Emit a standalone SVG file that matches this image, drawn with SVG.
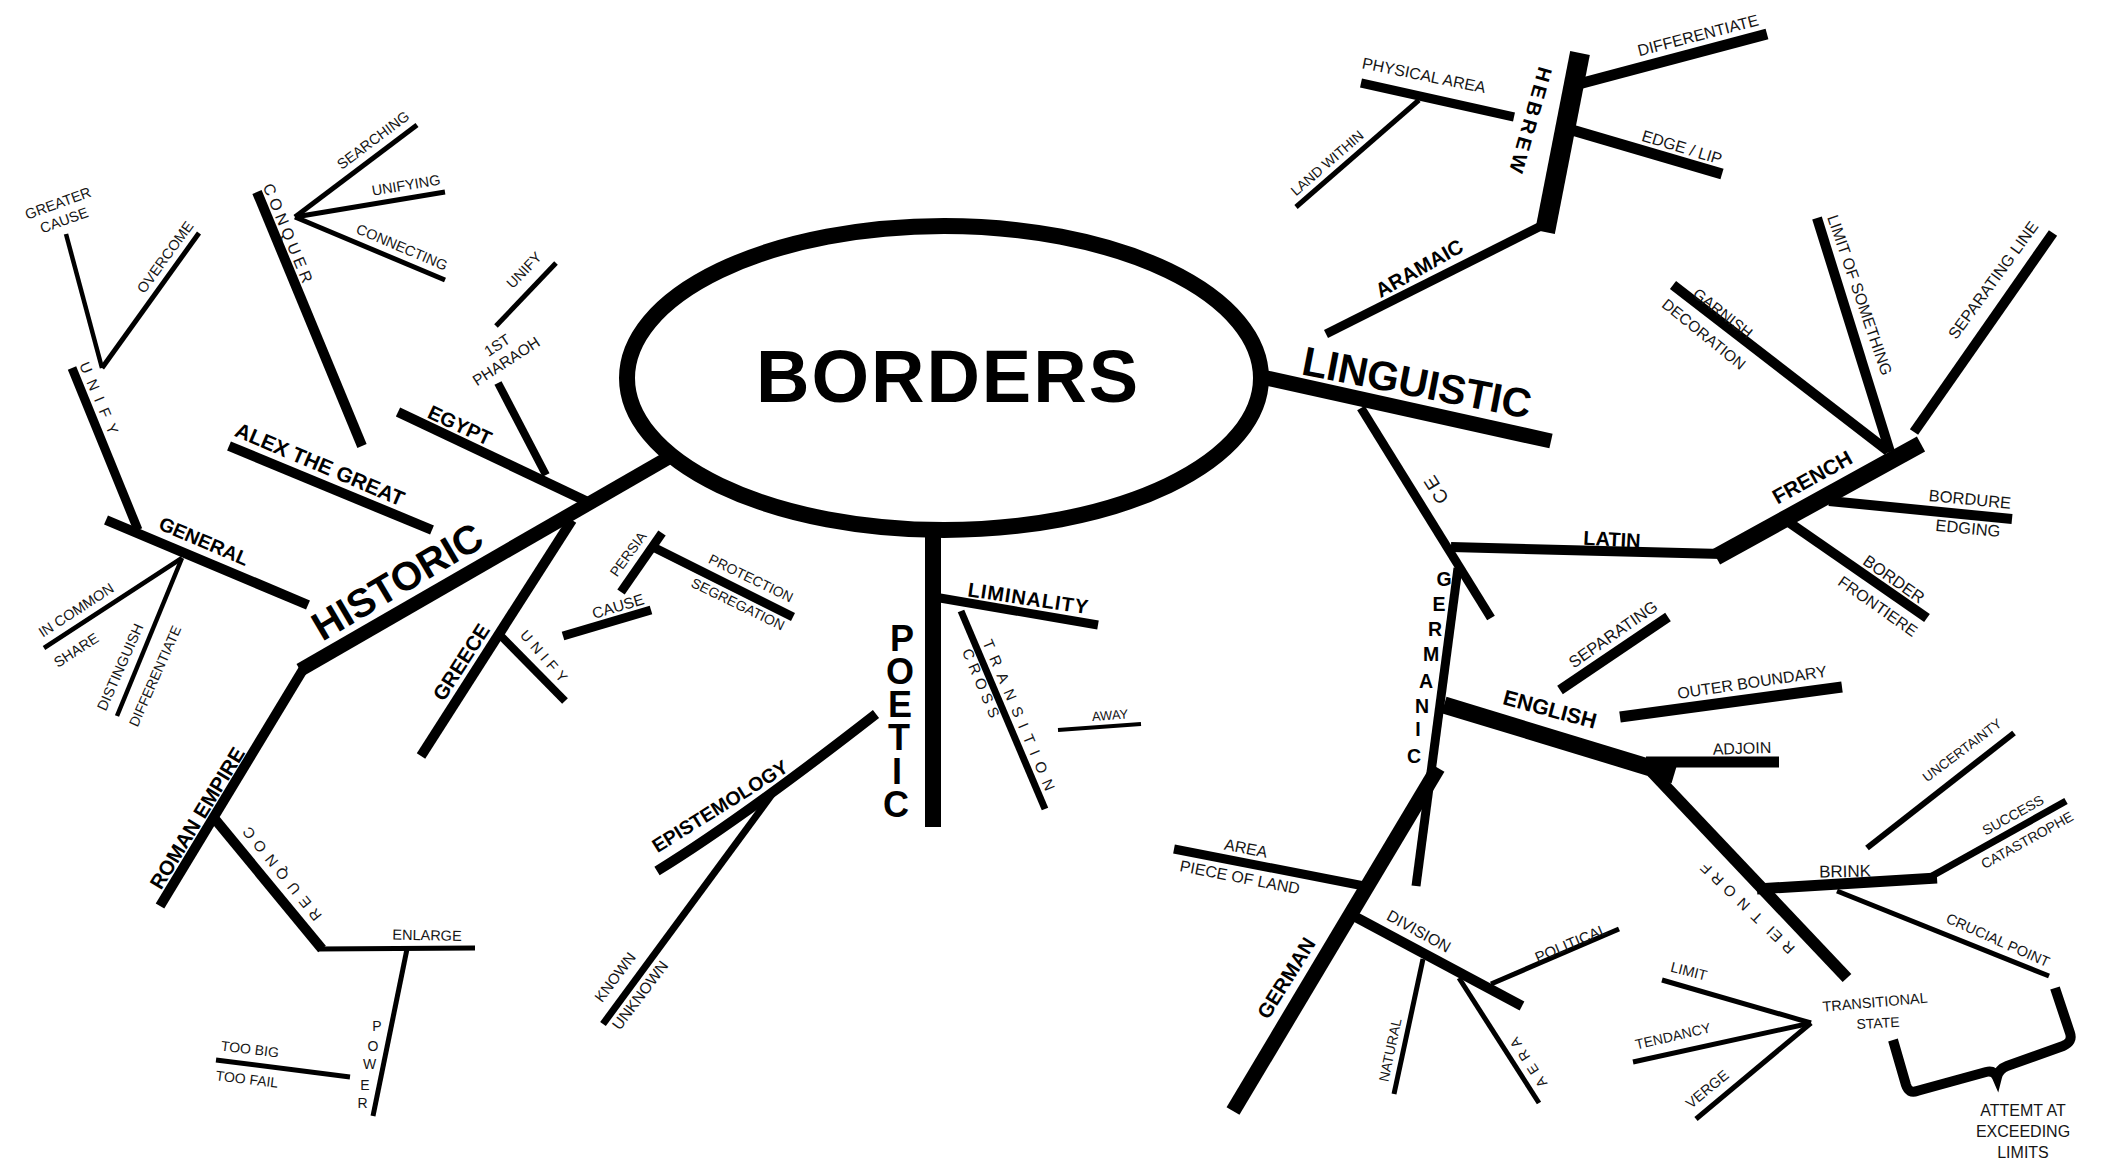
<svg xmlns="http://www.w3.org/2000/svg" width="2113" height="1163" viewBox="0 0 2113 1163">
<style>
.ln{stroke:#000;fill:none;stroke-linecap:butt;stroke-linejoin:miter}
.t{font-family:"Liberation Sans",Arial,Helvetica,sans-serif;fill:#151515;text-anchor:middle}
.b{font-weight:bold;fill:#000}
</style>
<rect width="2113" height="1163" fill="#fff"/>
<g id="connectors">
<line class="ln" x1="668" y1="458" x2="300" y2="670" stroke-width="14"/>
<line class="ln" x1="398" y1="412" x2="590" y2="503" stroke-width="10"/>
<line class="ln" x1="498" y1="383" x2="546" y2="475" stroke-width="8"/>
<line class="ln" x1="496" y1="326" x2="556" y2="263" stroke-width="5"/>
<line class="ln" x1="229" y1="446" x2="432" y2="530" stroke-width="10"/>
<line class="ln" x1="257" y1="192" x2="362" y2="446" stroke-width="10"/>
<line class="ln" x1="295" y1="217" x2="417" y2="125" stroke-width="5"/>
<line class="ln" x1="295" y1="217" x2="445" y2="192" stroke-width="5"/>
<line class="ln" x1="295" y1="217" x2="445" y2="280" stroke-width="5"/>
<line class="ln" x1="106" y1="520" x2="308" y2="605" stroke-width="10"/>
<line class="ln" x1="72" y1="368" x2="138" y2="530" stroke-width="9"/>
<line class="ln" x1="102" y1="368" x2="66" y2="234" stroke-width="4.5"/>
<line class="ln" x1="102" y1="368" x2="199" y2="233" stroke-width="5"/>
<line class="ln" x1="182" y1="558" x2="44" y2="648" stroke-width="4.5"/>
<line class="ln" x1="182" y1="558" x2="117" y2="716" stroke-width="4.5"/>
<line class="ln" x1="572" y1="520" x2="421" y2="756" stroke-width="10"/>
<line class="ln" x1="500" y1="635" x2="565" y2="701" stroke-width="8"/>
<line class="ln" x1="563" y1="636" x2="651" y2="610" stroke-width="9"/>
<line class="ln" x1="621" y1="592" x2="662" y2="533" stroke-width="9"/>
<line class="ln" x1="655" y1="548" x2="793" y2="617" stroke-width="9"/>
<line class="ln" x1="304" y1="668" x2="160" y2="906" stroke-width="10"/>
<line class="ln" x1="214" y1="818" x2="322" y2="949" stroke-width="10"/>
<line class="ln" x1="318" y1="949" x2="475" y2="948" stroke-width="5"/>
<line class="ln" x1="407" y1="949" x2="373" y2="1116" stroke-width="5"/>
<line class="ln" x1="216" y1="1060" x2="350" y2="1077" stroke-width="5"/>
<line class="ln" x1="933" y1="530" x2="933" y2="827" stroke-width="16"/>
<line class="ln" x1="940" y1="598" x2="1098" y2="625" stroke-width="9"/>
<line class="ln" x1="961" y1="611" x2="1045" y2="809" stroke-width="7"/>
<line class="ln" x1="1058" y1="730" x2="1141" y2="724" stroke-width="4"/>
<path class="ln" d="M657 871 Q740 820 876 714" stroke-width="10"/>
<line class="ln" x1="776" y1="789" x2="603" y2="1024" stroke-width="7"/>
<line class="ln" x1="1262" y1="377" x2="1551" y2="441" stroke-width="15"/>
<line class="ln" x1="1326" y1="334" x2="1545" y2="224" stroke-width="9"/>
<line class="ln" x1="1545" y1="232" x2="1580" y2="53" stroke-width="20"/>
<line class="ln" x1="1361" y1="83" x2="1514" y2="117" stroke-width="9"/>
<line class="ln" x1="1419" y1="100" x2="1296" y2="207" stroke-width="5"/>
<line class="ln" x1="1575" y1="85" x2="1767" y2="34" stroke-width="11"/>
<line class="ln" x1="1572" y1="130" x2="1722" y2="174" stroke-width="11"/>
<line class="ln" x1="1361" y1="408" x2="1491" y2="618" stroke-width="9"/>
<line class="ln" x1="1451" y1="547" x2="1722" y2="554" stroke-width="10"/>
<line class="ln" x1="1716" y1="557" x2="1921" y2="444" stroke-width="17"/>
<line class="ln" x1="1673" y1="285" x2="1888" y2="451" stroke-width="10"/>
<line class="ln" x1="1817" y1="218" x2="1890" y2="452" stroke-width="10"/>
<line class="ln" x1="2053" y1="233" x2="1914" y2="432" stroke-width="10"/>
<line class="ln" x1="1829" y1="501" x2="2012" y2="519" stroke-width="10"/>
<line class="ln" x1="1787" y1="521" x2="1927" y2="618" stroke-width="10"/>
<line class="ln" x1="1458" y1="568" x2="1416" y2="886" stroke-width="9"/>
<line class="ln" x1="1444" y1="705" x2="1674" y2="775" stroke-width="17"/>
<line class="ln" x1="1560" y1="690" x2="1668" y2="617" stroke-width="10"/>
<line class="ln" x1="1620" y1="717" x2="1842" y2="687" stroke-width="11"/>
<line class="ln" x1="1646" y1="762" x2="1779" y2="762" stroke-width="11"/>
<line class="ln" x1="1652" y1="772" x2="1847" y2="978" stroke-width="12"/>
<line class="ln" x1="1438" y1="768" x2="1233" y2="1111" stroke-width="15"/>
<line class="ln" x1="1174" y1="849" x2="1364" y2="886" stroke-width="9"/>
<line class="ln" x1="1350" y1="914" x2="1522" y2="1006" stroke-width="10"/>
<line class="ln" x1="1491" y1="984" x2="1619" y2="929" stroke-width="5"/>
<line class="ln" x1="1423" y1="959" x2="1394" y2="1094" stroke-width="5"/>
<line class="ln" x1="1459" y1="978" x2="1539" y2="1103" stroke-width="5"/>
<line class="ln" x1="1757" y1="889" x2="1937" y2="878" stroke-width="11"/>
<line class="ln" x1="1932" y1="876" x2="2066" y2="801" stroke-width="7"/>
<line class="ln" x1="1867" y1="848" x2="2014" y2="733" stroke-width="6"/>
<line class="ln" x1="1837" y1="891" x2="2049" y2="976" stroke-width="5"/>
<line class="ln" x1="1811" y1="1023" x2="1662" y2="980" stroke-width="5"/>
<line class="ln" x1="1811" y1="1023" x2="1633" y2="1062" stroke-width="5"/>
<line class="ln" x1="1811" y1="1023" x2="1696" y2="1119" stroke-width="5"/>
<path class="ln" d="M2055 988 L2070 1033 Q2073 1042 2063 1046 L2007 1066 Q1999 1069 1997 1077 Q1994 1070 1986 1072 L1917 1091 Q1909 1094 1906 1085 L1893 1040" stroke-width="10" stroke-linejoin="round"/>
</g>
<g id="n-borders"><ellipse cx="944" cy="378" rx="317" ry="152" fill="none" stroke="#000" stroke-width="16"/><text class="t b" x="948" y="402" font-size="74" letter-spacing="2">BORDERS</text></g>
<g id="n-historic"><text class="t b" transform="translate(397 581) rotate(-30.5)" y="14.3" font-size="40">HISTORIC</text></g>
<g id="n-egypt"><text class="t b" transform="translate(460 425) rotate(25)" y="7.2" font-size="20">EGYPT</text></g>
<g id="n-1st-pharaoh"><text class="t" transform="translate(497 345) rotate(-33)" y="5.4" font-size="15">1ST</text><text class="t" transform="translate(506 361) rotate(-33)" y="5.6" font-size="15.5">PHARAOH</text></g>
<g id="n-unify-egypt"><text class="t" transform="translate(524 270) rotate(-46.5)" y="5.2" font-size="14.5">UNIFY</text></g>
<g id="n-alex"><text class="t b" transform="translate(320 464) rotate(23)" y="7.6" font-size="21">ALEX THE GREAT</text></g>
<g id="n-conquer"><text class="t" transform="translate(288 233) rotate(67.6)" x="2" y="5.8" font-size="16" letter-spacing="4">CONQUER</text></g>
<g id="n-searching"><text class="t" transform="translate(373 140) rotate(-37)" y="5.2" font-size="14.5">SEARCHING</text></g>
<g id="n-unifying"><text class="t" transform="translate(406 185) rotate(-9.5)" y="5.2" font-size="14.5">UNIFYING</text></g>
<g id="n-connecting"><text class="t" transform="translate(402 247) rotate(23)" y="5.2" font-size="14.5">CONNECTING</text></g>
<g id="n-general"><text class="t b" transform="translate(204 541) rotate(23)" y="7" font-size="19.5">GENERAL</text></g>
<g id="n-unify-left"><text class="t" transform="translate(99 398) rotate(67)" x="4" y="5.4" font-size="15" letter-spacing="8">UNIFY</text></g>
<g id="n-greater-cause"><text class="t" transform="translate(58 203) rotate(-20)" y="5.2" font-size="14.5">GREATER</text><text class="t" transform="translate(64 220) rotate(-20)" y="5.2" font-size="14.5">CAUSE</text></g>
<g id="n-overcome"><text class="t" transform="translate(165 257) rotate(-54)" y="5.2" font-size="14.5">OVERCOME</text></g>
<g id="n-in-common"><text class="t" transform="translate(76 610) rotate(-33)" y="5.2" font-size="14.5">IN COMMON</text><text class="t" transform="translate(76 650) rotate(-33)" y="5.2" font-size="14.5">SHARE</text></g>
<g id="n-distinguish"><text class="t" transform="translate(120 667) rotate(-66)" y="5.2" font-size="14.5">DISTINGUISH</text><text class="t" transform="translate(155 676) rotate(-66)" y="5" font-size="14">DIFFERENTIATE</text></g>
<g id="n-greece"><text class="t b" transform="translate(461 662) rotate(-57)" y="7.4" font-size="20.5">GREECE</text></g>
<g id="n-unify-greece"><text class="t" transform="translate(544 656) rotate(49)" x="2.5" y="5.2" font-size="14.5" letter-spacing="5">UNIFY</text></g>
<g id="n-cause"><text class="t" transform="translate(618 606) rotate(-16.5)" y="5.6" font-size="15.5">CAUSE</text></g>
<g id="n-persia"><text class="t" transform="translate(628 554) rotate(-54)" y="5" font-size="14">PERSIA</text></g>
<g id="n-protection"><text class="t" transform="translate(751 578) rotate(26)" y="5" font-size="14">PROTECTION</text><text class="t" transform="translate(738 604) rotate(26)" y="5" font-size="14">SEGREGATION</text></g>
<g id="n-roman"><text class="t b" transform="translate(197 818) rotate(-58.5)" y="7.4" font-size="20.5">ROMAN EMPIRE</text></g>
<g id="n-conquer-roman"><text class="t" transform="translate(282 874) rotate(51)" x="14" y="-5.4" font-size="15" letter-spacing="6.5" rotate="180">CONQUER</text></g>
<g id="n-enlarge"><text class="t" transform="translate(427 935) rotate(1)" y="5.2" font-size="14.5">ENLARGE</text></g>
<g id="n-power"><text class="t" x="377 373 369.5 365 362.5" y="1031 1051 1069 1090 1108" font-size="14">POWER</text></g>
<g id="n-toobig"><text class="t" transform="translate(250 1049) rotate(7)" y="5" font-size="14">TOO BIG</text><text class="t" transform="translate(247 1079) rotate(7)" y="5" font-size="14">TOO FAIL</text></g>
<g id="n-poetic"><text class="t b" x="902 900 900 899 897 896" y="651 684 717 750 784 817" font-size="36">POETIC</text></g>
<g id="n-liminality"><text class="t b" transform="translate(1028 598) rotate(8.5)" x="0.5" y="7.2" font-size="20" letter-spacing="1">LIMINALITY</text></g>
<g id="n-cross"><text class="t" transform="translate(981 683) rotate(67)" x="2.5" y="5.4" font-size="15" letter-spacing="5">CROSS</text></g>
<g id="n-transition"><text class="t" transform="translate(1019 715) rotate(67)" x="4" y="5.4" font-size="15" letter-spacing="8">TRANSITION</text></g>
<g id="n-away"><text class="t" transform="translate(1110 715) rotate(-4)" y="4.7" font-size="13">AWAY</text></g>
<g id="n-epistemology"><text class="t b" transform="translate(720 806) rotate(-32)" y="7" font-size="19.5">EPISTEMOLOGY</text></g>
<g id="n-known"><text class="t" transform="translate(615 977) rotate(-53)" y="5.4" font-size="15">KNOWN</text><text class="t" transform="translate(640 995) rotate(-53)" y="5.6" font-size="15.5">UNKNOWN</text></g>
<g id="n-linguistic"><text class="t b" transform="translate(1417 382) rotate(11)" y="14.7" font-size="41">LINGUISTIC</text></g>
<g id="n-aramaic"><text class="t b" transform="translate(1419 268) rotate(-29.5)" y="7.4" font-size="20.5">ARAMAIC</text></g>
<g id="n-hebrew"><text class="t b" transform="translate(1531 120) rotate(106)" x="2" y="7.2" font-size="20" letter-spacing="4">HEBREW</text></g>
<g id="n-physical"><text class="t" transform="translate(1424 75) rotate(11.5)" y="5.8" font-size="16">PHYSICAL AREA</text></g>
<g id="n-landwithin"><text class="t" transform="translate(1327 163) rotate(-41)" y="5" font-size="14">LAND WITHIN</text></g>
<g id="n-differentiate"><text class="t" transform="translate(1698 35) rotate(-14.5)" y="5.8" font-size="16">DIFFERENTIATE</text></g>
<g id="n-edge"><text class="t" transform="translate(1682 147) rotate(17)" y="5.8" font-size="16">EDGE / LIP</text></g>
<g id="n-ce"><text class="t" transform="translate(1436 490) rotate(-122)" x="1.5" y="6.8" font-size="19" letter-spacing="3">CE</text></g>
<g id="n-latin"><text class="t b" transform="translate(1612 539) rotate(3)" y="7.2" font-size="20">LATIN</text></g>
<g id="n-french"><text class="t b" transform="translate(1812 477) rotate(-29)" y="7.6" font-size="21">FRENCH</text></g>
<g id="n-garnish"><text class="t" transform="translate(1723 313) rotate(38)" y="5.6" font-size="15.5">GARNISH</text><text class="t" transform="translate(1704 334) rotate(39)" y="5.6" font-size="15.5">DECORATION</text></g>
<g id="n-limitof"><text class="t" transform="translate(1860 295) rotate(71)" y="5.8" font-size="16">LIMIT OF SOMETHING</text></g>
<g id="n-sepline"><text class="t" transform="translate(1993 280) rotate(-54)" y="5.8" font-size="16">SEPARATING LINE</text></g>
<g id="n-bordure"><text class="t" transform="translate(1970 499) rotate(5.5)" y="5.9" font-size="16.5">BORDURE</text><text class="t" transform="translate(1968 528) rotate(5.5)" y="5.9" font-size="16.5">EDGING</text></g>
<g id="n-border"><text class="t" transform="translate(1894 579) rotate(35)" y="5.9" font-size="16.5">BORDER</text><text class="t" transform="translate(1878 606) rotate(35)" y="5.8" font-size="16">FRONTIERE</text></g>
<g id="n-germanic"><text class="t b" x="1444 1439 1435 1431 1426 1422 1418 1414" y="586 611 636 661 688 713 736 763" font-size="19.5">GERMANIC</text></g>
<g id="n-english"><text class="t b" transform="translate(1550 709) rotate(15)" y="7.7" font-size="21.5">ENGLISH</text></g>
<g id="n-separating"><text class="t" transform="translate(1613 634) rotate(-35)" y="5.9" font-size="16.5">SEPARATING</text></g>
<g id="n-outer"><text class="t" transform="translate(1752 682) rotate(-8.5)" y="5.8" font-size="16">OUTER BOUNDARY</text></g>
<g id="n-adjoin"><text class="t" transform="translate(1742 748) rotate(-2)" y="5.8" font-size="16">ADJOIN</text></g>
<g id="n-frontier"><text class="t" transform="translate(1747 908) rotate(44)" x="14" y="-5.4" font-size="15" letter-spacing="7" rotate="180">FRONTIER</text></g>
<g id="n-german"><text class="t b" transform="translate(1286 978) rotate(-58)" y="7.4" font-size="20.5">GERMAN</text></g>
<g id="n-area"><text class="t" transform="translate(1246 848) rotate(11)" y="5.8" font-size="16">AREA</text><text class="t" transform="translate(1240 877) rotate(11)" y="5.8" font-size="16">PIECE OF LAND</text></g>
<g id="n-division"><text class="t" transform="translate(1419 931) rotate(29)" y="5.8" font-size="16">DIVISION</text></g>
<g id="n-political"><text class="t" transform="translate(1571 943) rotate(-23)" y="5.4" font-size="15">POLITICAL</text></g>
<g id="n-natural"><text class="t" transform="translate(1390 1050) rotate(-78)" y="5" font-size="14">NATURAL</text></g>
<g id="n-area2"><text class="t" transform="translate(1528 1062) rotate(57)" x="13" y="-5" font-size="14" letter-spacing="6" rotate="180">AREA</text></g>
<g id="n-brink"><text class="t" transform="translate(1845 871) rotate(-1)" y="6.1" font-size="17">BRINK</text></g>
<g id="n-success"><text class="t" transform="translate(2013 815) rotate(-29)" y="5" font-size="14">SUCCESS</text><text class="t" transform="translate(2027 840) rotate(-29)" y="5" font-size="14">CATASTROPHE</text></g>
<g id="n-uncertainty"><text class="t" transform="translate(1962 750) rotate(-37)" y="4.9" font-size="13.5">UNCERTAINTY</text></g>
<g id="n-crucial"><text class="t" transform="translate(1998 940) rotate(24)" y="5.2" font-size="14.5">CRUCIAL POINT</text></g>
<g id="n-transitional"><text class="t" transform="translate(1875 1002) rotate(-5)" y="5.2" font-size="14.5">TRANSITIONAL</text><text class="t" transform="translate(1878 1023) rotate(-3)" y="5" font-size="14">STATE</text></g>
<g id="n-limit"><text class="t" transform="translate(1689 971) rotate(14)" y="5.2" font-size="14.5">LIMIT</text></g>
<g id="n-tendancy"><text class="t" transform="translate(1673 1036) rotate(-13)" y="5" font-size="14">TENDANCY</text></g>
<g id="n-verge"><text class="t" transform="translate(1707 1089) rotate(-40)" y="5.2" font-size="14.5">VERGE</text></g>
<g id="n-attempt"><text class="t" x="2023" y="1116" font-size="16">ATTEMT AT</text><text class="t" x="2023" y="1137" font-size="16">EXCEEDING</text><text class="t" x="2023" y="1158" font-size="16">LIMITS</text></g>
</svg>
